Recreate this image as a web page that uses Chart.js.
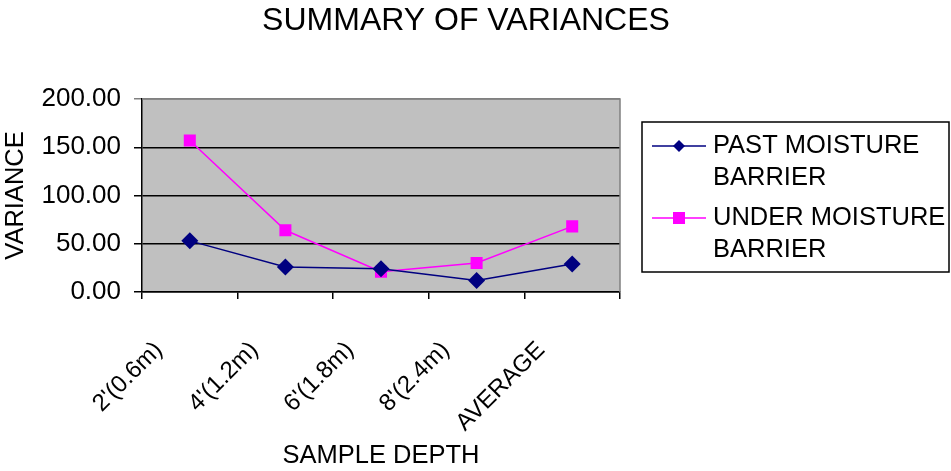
<!DOCTYPE html>
<html>
<head>
<meta charset="utf-8">
<script src="https://cdn.jsdelivr.net/npm/chart.js@4/dist/chart.umd.min.js"></script>
<style>
  html, body { margin: 0; padding: 0; background: #fff; }
  #wrap { width: 951px; height: 471px; }
</style>
</head>
<body>
<div id="wrap"><canvas id="c" width="951" height="471"></canvas></div>
<script>
// Sample depths along the x axis
const depths = ["2'(0.6m)", "4'(1.2m)", "6'(1.8m)", "8'(2.4m)", "AVERAGE"];
// Variance per depth for each location
const pastBarrier = [53, 26, 24, 12, 29];
const underBarrier = [157, 64, 21, 30, 68];
// Legend text, split onto two lines each
const pastName = ["PAST MOISTURE", "BARRIER"];
const underName = ["UNDER MOISTURE", "BARRIER"];
// Value axis ticks
const varianceTicks = [0, 50, 100, 150, 200];

const FONT = "'Liberation Sans', Arial, Helvetica, sans-serif";
Chart.defaults.font.family = FONT;
Chart.defaults.color = '#000';

const PLOT_LEFT = 142, PLOT_TOP = 99, PLOT_RIGHT = 620, PLOT_BOTTOM = 292;
const W = 951, H = 471;

function drawMarker(ctx, style, x, y, r, color) {
  ctx.save();
  ctx.fillStyle = color;
  ctx.beginPath();
  const s = Math.SQRT1_2 * r;
  if (style === 'rect') {
    ctx.rect(x - s, y - s, 2 * s, 2 * s);
  } else {
    ctx.moveTo(x - s, y); ctx.lineTo(x, y + s); ctx.lineTo(x + s, y); ctx.lineTo(x, y - s); ctx.closePath();
  }
  ctx.fill();
  ctx.restore();
}

const framePlugin = {
  id: 'frame',
  beforeDraw(chart) {
    const { ctx, chartArea: a } = chart;
    ctx.save();
    ctx.fillStyle = '#C0C0C0';
    ctx.fillRect(a.left, a.top, a.right - a.left, a.bottom - a.top);
    ctx.restore();
  },
  beforeDatasetsDraw(chart) {
    const { ctx, chartArea: a } = chart;
    ctx.save();
    ctx.strokeStyle = '#808080';
    ctx.lineWidth = 1.5;
    ctx.beginPath();
    ctx.moveTo(a.left, a.top);
    ctx.lineTo(a.right, a.top);
    ctx.lineTo(a.right, a.bottom);
    ctx.stroke();
    ctx.restore();
  },
  afterDraw(chart) {
    const ctx = chart.ctx;
    ctx.save();
    // chart title
    ctx.fillStyle = '#000';
    ctx.font = "32px " + FONT;
    ctx.textAlign = 'center';
    ctx.textBaseline = 'middle';
    ctx.fillText('SUMMARY OF VARIANCES', 466, 21);

    // legend box
    const bx = 642, by = 122, bw = 307, bh = 150;
    ctx.fillStyle = '#fff';
    ctx.fillRect(bx, by, bw, bh);
    ctx.strokeStyle = '#000';
    ctx.lineWidth = 1.5;
    ctx.strokeRect(bx, by, bw, bh);

    const items = chart.data.datasets.map((ds, i) => ({
      lines: ds.legendLines,
      color: ds.borderColor,
      style: ds.pointStyle,
      r: ds.pointRadius,
      y: [146, 218][i]
    }));
    ctx.font = "25.5px " + FONT;
    ctx.textAlign = 'left';
    ctx.textBaseline = 'middle';
    items.forEach(it => {
      ctx.strokeStyle = it.color;
      ctx.lineWidth = 1.5;
      ctx.beginPath();
      ctx.moveTo(652, it.y);
      ctx.lineTo(706, it.y);
      ctx.stroke();
      drawMarker(ctx, it.style, 679, it.y, it.r, it.color);
      ctx.fillStyle = '#000';
      it.lines.forEach((t, k) => ctx.fillText(t, 713, it.y + k * 32));
    });
    ctx.restore();
  }
};

new Chart(document.getElementById('c'), {
  type: 'line',
  data: {
    labels: depths,
    datasets: [
      {
        label: pastName.join(' '),
        legendLines: pastName,
        data: pastBarrier,
        borderColor: '#000080',
        backgroundColor: '#000080',
        pointBackgroundColor: '#000080',
        pointBorderColor: '#000080',
        pointStyle: 'rectRot',
        pointRadius: 8.5,
        pointBorderWidth: 0,
        borderWidth: 1.5,
        tension: 0,
        fill: false
      },
      {
        label: underName.join(' '),
        legendLines: underName,
        data: underBarrier,
        borderColor: '#FF00FF',
        backgroundColor: '#FF00FF',
        pointBackgroundColor: '#FF00FF',
        pointBorderColor: '#FF00FF',
        pointStyle: 'rect',
        pointRadius: 8.5,
        pointBorderWidth: 0,
        borderWidth: 1.5,
        tension: 0,
        fill: false
      }
    ]
  },
  options: {
    responsive: false,
    animation: false,
    devicePixelRatio: 1,
    layout: { padding: { left: 0, top: PLOT_TOP, right: W - PLOT_RIGHT, bottom: 0 } },
    plugins: {
      legend: { display: false },
      title: { display: false },
      tooltip: { enabled: false }
    },
    scales: {
      x: {
        type: 'category',
        offset: true,
        afterFit(scale) { scale.height = H - PLOT_BOTTOM; },
        grid: {
          offset: true,
          drawOnChartArea: false,
          drawTicks: true,
          tickLength: 7,
          color: '#000',
          lineWidth: 1.5
        },
        border: { display: true, color: '#000', width: 1.5 },
        ticks: {
          autoSkip: false,
          minRotation: 45,
          maxRotation: 45,
          labelOffset: -31,
          padding: 37,
          font: { size: 24 },
          color: '#000'
        },
        title: {
          display: true,
          text: 'SAMPLE DEPTH',
          font: { size: 25.5 },
          color: '#000',
          padding: { top: 0, bottom: 0 }
        }
      },
      y: {
        min: 0,
        max: 200,
        afterFit(scale) { scale.width = PLOT_LEFT; },
        afterBuildTicks(scale) { scale.ticks = varianceTicks.map(v => ({ value: v })); },
        grid: {
          color: c => (c.tick && c.tick.value === 200) ? '#808080' : '#000',
          lineWidth: 1.5,
          tickLength: 8,
          drawTicks: true
        },
        border: { display: true, color: '#000', width: 1.5 },
        ticks: {
          padding: 13,
          font: { size: 26 },
          color: '#000',
          callback: v => Number(v).toFixed(2)
        },
        title: {
          display: true,
          text: 'VARIANCE',
          font: { size: 25.5 },
          color: '#000',
          padding: { top: 1, bottom: 0 }
        }
      }
    }
  },
  plugins: [framePlugin]
});
</script>
</body>
</html>
